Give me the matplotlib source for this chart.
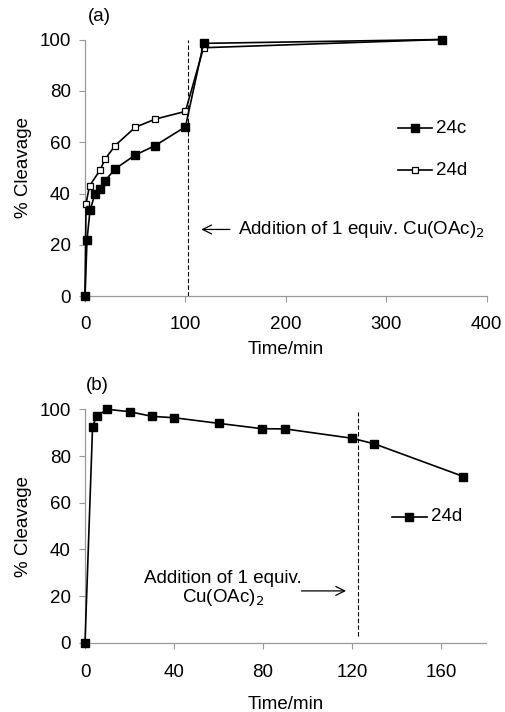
import matplotlib
matplotlib.use('Agg')
import matplotlib.pyplot as plt

plt.rcParams['font.family'] = ['Liberation Sans', 'DejaVu Sans']
FS = 13.5

# panel (a)
time_c = [0, 2, 5, 10, 15, 20, 30, 50, 70, 100, 118, 355]
cleave_c = [0, 22, 33.5, 40, 41.7, 45, 49.6, 55, 58.7, 66, 98.5, 100]
time_d = [0, 1, 4.5, 15, 20, 30, 50, 70, 100, 118, 355]
cleave_d = [0, 36, 43, 49.1, 53.4, 58.7, 65.8, 69, 72, 96.8, 100]

# panel (b)
time_b = [0, 3.4, 5.2, 10, 20, 30, 40, 60, 79.5, 90, 120, 130, 170]
cleave_b = [0, 92.6, 97.1, 100, 99, 97, 96.4, 94, 91.7, 91.6, 87.6, 85.2, 71.2]

fig = plt.figure(figsize=(5.06, 7.12), dpi=100)
ax1 = fig.add_axes([0.168, 0.584, 0.794, 0.3605])
ax2 = fig.add_axes([0.168, 0.0973, 0.792, 0.3278])

def style(ax, xpad, lpad):
    for s in ['top', 'right']:
        ax.spines[s].set_visible(False)
    for s in ['left', 'bottom']:
        ax.spines[s].set_color('#999999')
        ax.spines[s].set_linewidth(0.9)
    ax.tick_params(direction='out', length=4.3, color='#999999', width=0.8, labelsize=FS)
    ax.tick_params(axis='x', pad=xpad)
    ax.tick_params(axis='y', pad=6)
    ax.set_ylim(0, 100)
    ax.set_yticks(range(0, 101, 20))
    ax.set_ylabel('% Cleavage', fontsize=FS, labelpad=5)
    ax.set_xlabel('Time/min', fontsize=FS, labelpad=lpad)

ax1.plot(time_d, cleave_d, '-s', color='black', lw=1.2, ms=4.5, mfc='white', mew=0.9, clip_on=False, zorder=3)
ax1.plot(time_c, cleave_c, '-s', color='black', lw=1.2, ms=5.5, mfc='black', clip_on=False, zorder=3)
ax1.set_xlim(0, 400)
ax1.set_xticks(range(0, 401, 100))
style(ax1, 10, 6)
ax1.plot([103, 103], [0, 100], ls=(0, (4, 2)), color='black', lw=0.8)
ax1.annotate('', xy=(113, 26), xytext=(147, 26),
             arrowprops=dict(arrowstyle='->', color='black', lw=0.9, mutation_scale=16))
ax1.text(152, 26, 'Addition of 1 equiv. Cu(OAc)$_2$', va='center', ha='left', fontsize=FS)
ax1.plot([312, 345], [65.5, 65.5], '-', color='black', lw=1.2)
ax1.plot([328.5], [65.5], 's', color='black', ms=5.5)
ax1.text(349, 65.5, '24c', va='center', ha='left', fontsize=FS)
ax1.plot([312, 345], [49, 49], '-', color='black', lw=1.2)
ax1.plot([328.5], [49], 's', color='black', ms=4.5, mfc='white', mew=0.9)
ax1.text(349, 49, '24d', va='center', ha='left', fontsize=FS)
ax1.text(3, 109, '(a)', ha='left', va='center', fontsize=FS, clip_on=False)

ax2.plot(time_b, cleave_b, '-s', color='black', lw=1.2, ms=5.5, mfc='black', clip_on=False, zorder=3)
ax2.set_xlim(0, 180)
ax2.set_xticks(range(0, 161, 40))
style(ax2, 11, 11)
ax2.plot([122.4, 122.4], [3, 99], ls=(0, (4, 2)), color='black', lw=0.8)
ax2.annotate('', xy=(118.5, 22.2), xytext=(96, 22.2),
             arrowprops=dict(arrowstyle='->', color='black', lw=0.9, mutation_scale=16))
ax2.text(62, 23, 'Addition of 1 equiv.\nCu(OAc)$_2$', ha='center', va='center', fontsize=FS, linespacing=1.0)
ax2.plot([138, 153.5], [54, 54], '-', color='black', lw=1.2)
ax2.plot([145.7], [54], 's', color='black', ms=5.5)
ax2.text(155.5, 54, '24d', va='center', ha='left', fontsize=FS)
ax2.text(0.5, 110, '(b)', ha='left', va='center', fontsize=FS, clip_on=False)

fig.savefig('out.png', dpi=100)
